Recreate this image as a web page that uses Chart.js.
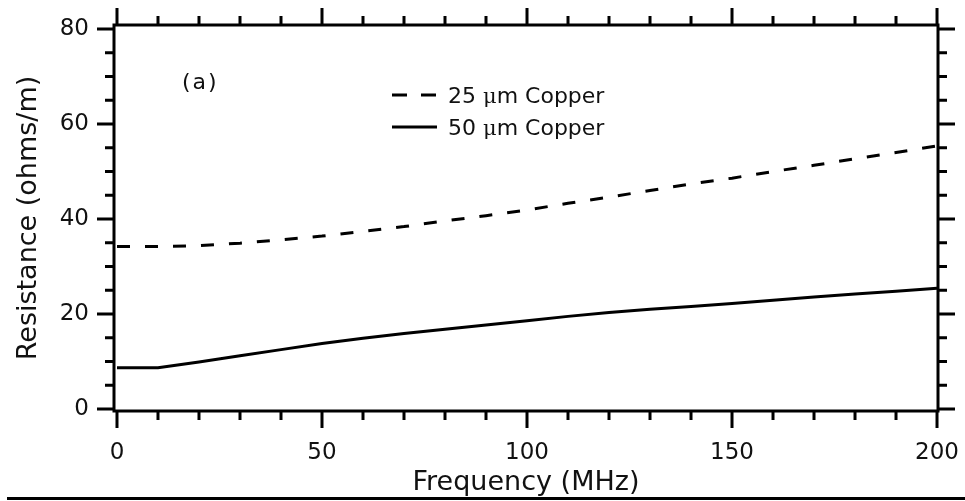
<!DOCTYPE html>
<html>
<head>
<meta charset="utf-8">
<script src="https://cdn.jsdelivr.net/npm/chart.js@4"></script>
<style>
  body { margin: 0; background: #fff; }
  #wrap { position: relative; width: 965px; height: 501px; }
  #baseline { position: absolute; left: 7px; top: 497px; width: 958px; border-top: 3px solid #000; }
</style>
</head>
<body>
<div id="wrap">
  <canvas id="resChart" width="965" height="501"></canvas>
  <div id="baseline"></div>
</div>
<script>
// frequency (MHz)
var freq = [0, 10, 20, 30, 40, 50, 60, 70, 80, 90, 100, 110, 120, 130, 140, 150, 160, 170, 180, 190, 200];
// 25 um copper (dashed)
var res25 = [34.2, 34.2, 34.4, 34.9, 35.6, 36.4, 37.4, 38.4, 39.6, 40.7, 41.9, 43.3, 44.6, 46.0, 47.4, 48.6, 50.0, 51.3, 52.7, 54.0, 55.4];
// 50 um copper (solid)
var res50 = [8.7, 8.7, 9.9, 11.2, 12.5, 13.8, 14.9, 15.9, 16.8, 17.7, 18.6, 19.5, 20.3, 21.0, 21.6, 22.2, 22.9, 23.6, 24.2, 24.8, 25.4];

var xTickLabels = [0, 50, 100, 150, 200];
var yTickLabels = [0, 20, 40, 60, 80];
var xMinorStep = 10;
var yMinorStep = 5;

var seriesNames = ["25 \u03bcm Copper", "50 \u03bcm Copper"];
var panelLabel = "(a)";

var FONT = "'DejaVu Sans', Verdana, sans-serif";
var INK = "#111";

function pts(ys) {
  return freq.map(function (f, i) { return { x: f, y: ys[i] }; });
}

// frame + in/out ticks on all four sides
var framePlugin = {
  id: "frame",
  afterDraw: function (chart) {
    var ctx = chart.ctx;
    var a = chart.chartArea;
    var xs = chart.scales.x;
    var ys = chart.scales.y;
    ctx.save();
    ctx.strokeStyle = "#000";
    ctx.lineWidth = 3;
    ctx.lineCap = "butt";
    ctx.strokeRect(a.left, a.top, a.right - a.left, a.bottom - a.top);

    var v, p, len;
    for (v = 0; v <= 200; v += xMinorStep) {
      p = xs.getPixelForValue(v);
      len = xTickLabels.indexOf(v) >= 0 ? 17 : 9;
      ctx.beginPath();
      ctx.moveTo(p, a.top); ctx.lineTo(p, a.top - len);
      ctx.moveTo(p, a.bottom); ctx.lineTo(p, a.bottom + len);
      ctx.stroke();
    }
    for (v = 0; v <= 80; v += yMinorStep) {
      p = ys.getPixelForValue(v);
      len = yTickLabels.indexOf(v) >= 0 ? 17 : 9;
      ctx.beginPath();
      ctx.moveTo(a.left, p); ctx.lineTo(a.left - len, p);
      ctx.moveTo(a.right, p); ctx.lineTo(a.right + len, p);
      ctx.stroke();
    }

    // legend inside the plot
    var lx = a.left + 278;
    var rows = [a.top + 70, a.top + 102];
    ctx.lineWidth = 3;
    ctx.beginPath();
    ctx.setLineDash([15, 14]);
    ctx.moveTo(lx, rows[0]); ctx.lineTo(lx + 45, rows[0]);
    ctx.stroke();
    ctx.setLineDash([]);
    ctx.beginPath();
    ctx.moveTo(lx, rows[1]); ctx.lineTo(lx + 45, rows[1]);
    ctx.stroke();

    ctx.fillStyle = INK;
    ctx.textBaseline = "alphabetic";
    ctx.textAlign = "left";
    seriesNames.forEach(function (name, i) {
      var parts = name.split("\u03bc");
      var tx = lx + 56;
      var ty = rows[i] + 8;
      ctx.font = "22px " + FONT;
      ctx.fillText(parts[0], tx, ty);
      tx += ctx.measureText(parts[0]).width;
      ctx.font = "21px 'DejaVu Serif', serif";
      ctx.fillText("\u03bc", tx, ty);
      tx += ctx.measureText("\u03bc").width;
      ctx.font = "22px " + FONT;
      ctx.fillText(parts[1], tx, ty);
    });

    ctx.font = "22px " + FONT;
    if ("letterSpacing" in ctx) ctx.letterSpacing = "2px";
    ctx.fillText(panelLabel, a.left + 68, a.top + 64);
    ctx.restore();
  }
};

new Chart(document.getElementById("resChart").getContext("2d"), {
  type: "line",
  data: {
    datasets: [
      {
        label: seriesNames[0],
        data: pts(res25),
        borderColor: "#000",
        borderWidth: 3,
        borderDash: [13, 15],
        pointRadius: 0,
        fill: false,
        tension: 0,
      },
      {
        label: seriesNames[1],
        data: pts(res50),
        borderColor: "#000",
        borderWidth: 3,
        pointRadius: 0,
        fill: false,
        tension: 0,
      },
    ],
  },
  options: {
    responsive: false,
    animation: false,
    layout: { padding: { top: 25, right: 27, left: 0, bottom: 0 } },
    plugins: {
      legend: { display: false },
      tooltip: { enabled: false },
    },
    scales: {
      x: {
        type: "linear",
        min: -0.73,
        max: 200.24,
        afterBuildTicks: function (scale) {
          scale.ticks = xTickLabels.map(function (v) { return { value: v }; });
        },
        afterFit: function (scale) {
          scale.height = 90;
          scale.paddingLeft = 0;
          scale.paddingRight = 0;
        },
        grid: { display: false, drawTicks: false },
        border: { display: false },
        ticks: {
          color: INK,
          padding: 28,
          maxRotation: 0,
          font: { family: FONT, size: 23 },
        },
        title: {
          display: true,
          text: "Frequency (MHz)",
          color: INK,
          font: { family: FONT, size: 27 },
          padding: { top: 0, bottom: 2 },
        },
      },
      y: {
        type: "linear",
        min: -0.42,
        max: 80.84,
        afterBuildTicks: function (scale) {
          scale.ticks = yTickLabels.map(function (v) { return { value: v }; });
        },
        afterFit: function (scale) {
          scale.width = 114;
          scale.paddingTop = 0;
          scale.paddingBottom = 0;
        },
        grid: { display: false, drawTicks: false },
        border: { display: false },
        ticks: {
          color: INK,
          padding: 25,
          font: { family: FONT, size: 23 },
        },
        title: {
          display: true,
          text: "Resistance (ohms/m)",
          color: INK,
          font: { family: FONT, size: 27 },
          padding: { top: 13, bottom: 0 },
        },
      },
    },
  },
  plugins: [framePlugin],
});
</script>
</body>
</html>
